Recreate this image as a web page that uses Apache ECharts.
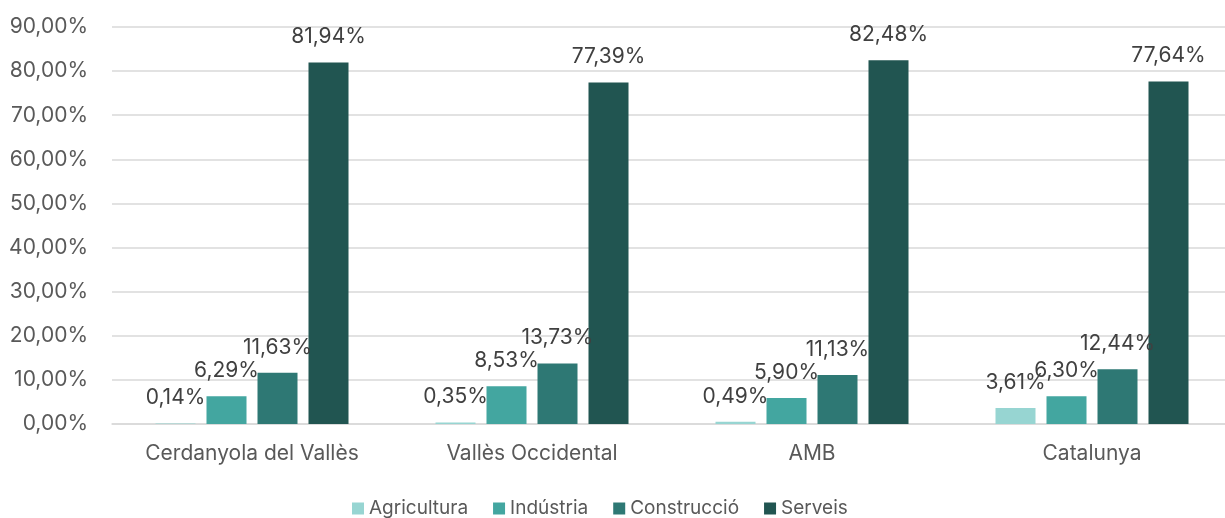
<!DOCTYPE html>
<html><head><meta charset="utf-8">
<script src="https://cdn.jsdelivr.net/npm/echarts@6/dist/echarts.min.js"></script>
<style>html,body{margin:0;padding:0;background:#fff}#c{width:1225px;height:518px}</style>
</head><body><div id="c"></div>
<script>
const categories = ['Cerdanyola del Vallès', 'Vallès Occidental', 'AMB', 'Catalunya'];
const seriesNames = ['Agricultura', 'Indústria', 'Construcció', 'Serveis'];
const agricultura = [0.14, 0.35, 0.49, 3.61];
const industria = [6.29, 8.53, 5.90, 6.30];
const construccio = [11.63, 13.73, 11.13, 12.44];
const serveis = [81.94, 77.39, 82.48, 77.64];
const colors = ['#97D5D2', '#43A6A0', '#2E7874', '#215551'];
const values = [agricultura, industria, construccio, serveis];
const fmt = v => v.toFixed(2).replace('.', ',') + '%';
const font = 'Inter, "Open Sans", sans-serif';
const chart = echarts.init(document.getElementById('c'));
chart.setOption({
  animation: false,
  color: colors,
  textStyle: { fontFamily: font },
  grid: { left: 112, width: 1120, top: 27, bottom: 94, containLabel: false, outerBoundsMode: 'none' },
  legend: {
    top: 494, left: 347, itemWidth: 12, itemHeight: 12, itemGap: 25,
    icon: 'rect',
    textStyle: { fontSize: 19, color: '#595959', fontFamily: font },
    data: seriesNames
  },
  xAxis: {
    type: 'category', data: categories,
    axisLine: { lineStyle: { color: '#d9d9d9', width: 1.5 } },
    axisTick: { show: false },
    axisLabel: { fontSize: 21, color: '#595959', margin: 19, fontFamily: font }
  },
  yAxis: {
    type: 'value', min: 0, max: 90, interval: 10,
    axisLine: { show: false }, axisTick: { show: false },
    splitLine: { lineStyle: { color: '#d9d9d9', width: 1.5 } },
    axisLabel: { fontSize: 21, color: '#595959', margin: 24, fontFamily: font,
      formatter: v => v.toFixed(2).replace('.', ',') + '%' }
  },
  series: seriesNames.map((n, i) => ({
    name: n, type: 'bar', data: values[i],
    barWidth: 40, barGap: '27.5%', barCategoryGap: '30%',
    itemStyle: { color: colors[i] },
    label: { show: true, position: 'top', distance: 15, fontSize: 21, color: '#404040',
      fontFamily: font, formatter: p => fmt(p.value) }
  }))
});
</script></body></html>
